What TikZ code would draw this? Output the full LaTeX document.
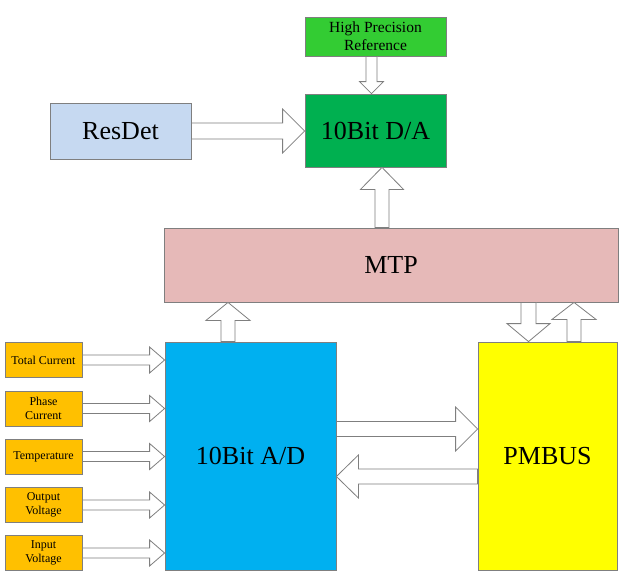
\documentclass[tikz,border=0pt]{standalone}
\usepackage{fontspec}
\setmainfont{Liberation Serif}
\usetikzlibrary{calc}
\definecolor{edgegray}{HTML}{7F7F7F}
\definecolor{hprgreen}{HTML}{33CC33}
\definecolor{dagreen}{HTML}{00B050}
\definecolor{resblue}{HTML}{C6D9F1}
\definecolor{mtppink}{HTML}{E6B9B8}
\definecolor{adblue}{HTML}{00B0F0}
\definecolor{pmyellow}{HTML}{FFFF00}
\definecolor{inorange}{HTML}{FFC000}
\tikzset{
  box/.style={draw=edgegray, line width=0.8pt, inner sep=0pt, align=center},
  bigtext/.style={font=\fontsize{26}{30}\selectfont},
  smallbox/.style={box, fill=inorange, minimum width=77pt, minimum height=35pt,
    font=\fontsize{12}{14.5}\selectfont},
  blk/.style={draw=edgegray, fill=white, line width=0.8pt, line join=miter}
}
\newcommand{\blockarrow}[5]{%
  \coordinate (ba-a) at (#1);
  \coordinate (ba-b) at (#2);
  \coordinate (ba-h) at ($(ba-b)!#5!(ba-a)$);
  \draw[blk] ($(ba-a)!#3!90:(ba-b)$) -- ($(ba-h)!#3!-90:(ba-a)$) -- ($(ba-h)!#4!-90:(ba-a)$)
    -- (ba-b) -- ($(ba-h)!#4!90:(ba-a)$) -- ($(ba-h)!#3!90:(ba-a)$) -- ($(ba-a)!#3!-90:(ba-b)$) -- cycle;}
\begin{document}
\begin{tikzpicture}[x=1pt, y=-1pt]
\fill[white] (0,0) rectangle (636,576);
\useasboundingbox (0,0) rectangle (636,576);

% boxes
\node[box, fill=hprgreen, minimum width=141pt, minimum height=39pt,
  font=\fontsize{15.5}{18}\selectfont] (hpr) at (375.5,36.5) {High Precision\\Reference};
\node[box, bigtext, fill=dagreen, minimum width=141pt, minimum height=73pt] (da) at (375.5,130.5) {10Bit D/A};
\node[box, bigtext, fill=resblue, minimum width=141pt, minimum height=56pt] (resdet) at (120.5,131) {ResDet};
\node[box, bigtext, fill=mtppink, minimum width=454pt, minimum height=74pt] (mtp) at (391,265) {MTP};
\node[box, bigtext, fill=adblue, minimum width=171pt, minimum height=228pt] (ad) at (250.5,456) {10Bit A/D};
\node[box, bigtext, fill=pmyellow, minimum width=139pt, minimum height=228pt] (pm) at (547.5,456) {PMBUS};

\node[smallbox] (tc) at (43.5,360) {Total Current};
\node[smallbox] (pc) at (43.5,408.5) {Phase\\Current};
\node[smallbox] (tmp) at (43.5,456.5) {Temperature};
\node[smallbox] (ov) at (43.5,505) {Output\\Voltage};
\node[smallbox] (iv) at (43.5,553) {Input\\Voltage};

% helper coordinates
\coordinate (hprx) at ([xshift=-4pt]hpr.south);
\coordinate (dax) at ([xshift=6.5pt]da.south);
\coordinate (adx) at ([xshift=-22.5pt]ad.north);
\coordinate (pmd) at ([xshift=-19pt]pm.north);
\coordinate (pmu) at ([xshift=26.5pt]pm.north);
\coordinate (adr) at ([yshift=27pt]ad.east);
\coordinate (pml) at ([yshift=-20.5pt]pm.west);

% block arrows
\blockarrow{hprx}{da.north -| hprx}{5.5pt}{12pt}{12pt}
\blockarrow{resdet.east}{da.west |- resdet.east}{8pt}{22pt}{22pt}
\blockarrow{mtp.north -| dax}{dax}{7pt}{21.5pt}{22pt}
\blockarrow{adx}{mtp.south -| adx}{7pt}{22pt}{18pt}
\blockarrow{mtp.south -| pmd}{pmd}{7.5pt}{21.5pt}{18pt}
\blockarrow{pmu}{mtp.south -| pmu}{7pt}{22pt}{17pt}
\blockarrow{adr}{pm.west |- adr}{7.5pt}{22pt}{22pt}
\blockarrow{pml}{ad.east |- pml}{7.5pt}{21.5pt}{22pt}

\foreach \s in {tc,pc,tmp,ov,iv}{
  \blockarrow{\s.east}{ad.west |- \s.east}{5pt}{13pt}{15pt}
}
\end{tikzpicture}
\end{document}
